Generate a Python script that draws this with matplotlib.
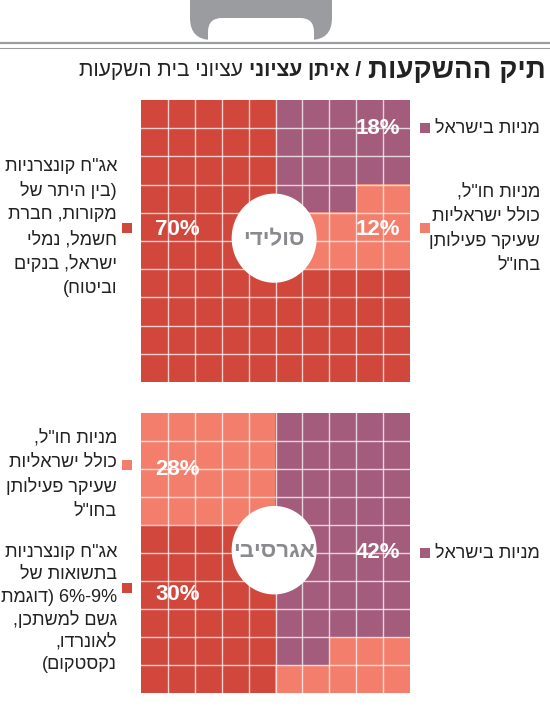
import matplotlib
matplotlib.use("Agg")
import matplotlib.pyplot as plt
from matplotlib import font_manager
import numpy as np
from matplotlib.patches import Circle, FancyBboxPatch, Rectangle
from matplotlib.colors import ListedColormap

names = {f.name for f in font_manager.fontManager.ttflist}
narrow = 'Liberation Sans Narrow' in names
fam = (['Liberation Sans Narrow'] if narrow else []) + ['Liberation Sans', 'DejaVu Sans']
plt.rcParams['font.family'] = fam
LFS = 15 if narrow else 13

def h(s):
    r = s[::-1]
    return r.translate(str.maketrans("()", ")("))

# data
categories = ["אג\"ח קונצרניות", "מניות בישראל", "מניות חו\"ל"]
colors = ["#d2473b", "#a45c7c", "#f27e6b"]
# R = bonds, P = Israel equity, S = foreign equity
solid_rows = ["RRRRRPPPPP", "RRRRRPPPPP", "RRRRRPPPPP", "RRRRRPPPSS", "RRRRRSSSSS",
              "RRRRRSSSSS", "RRRRRRRRRR", "RRRRRRRRRR", "RRRRRRRRRR", "RRRRRRRRRR"]
aggr_rows = ["SSSSSPPPPP", "SSSSSPPPPP", "SSSSSPPPPP", "SSSSSPPPPP", "RRRRRPPPPP",
             "RRRRRPPPPP", "RRRRRPPPPP", "RRRRRPPPPP", "RRRRRPPSSS", "RRRRRSSSSS"]
solid_pct = {"R": 70, "P": 18, "S": 12}
aggr_pct = {"R": 30, "P": 42, "S": 28}

W, H = 550, 716
fig = plt.figure(figsize=(5.5, 7.16), dpi=100)
bg = fig.add_axes([0, 0, 1, 1])
bg.set_xlim(0, W); bg.set_ylim(H, 0); bg.axis('off')

# briefcase handle
bg.add_patch(FancyBboxPatch((190, -40), 142, 80, boxstyle="round,pad=0,rounding_size=22",
                            fc="#9b9ca0", ec="none"))
bg.add_patch(FancyBboxPatch((208, 18), 106, 60, boxstyle="round,pad=0,rounding_size=14",
                            fc="white", ec="none"))
bg.add_patch(Rectangle((0, 40), W, 10, fc="white", ec="none"))
bg.plot([0, W], [43, 43], color="#9b9ca0", lw=1.6)
bg.plot([0, W], [47.5, 47.5], color="#9b9ca0", lw=0.8)

# title
fig.canvas.draw()
r = fig.canvas.get_renderer()
t1 = bg.text(546, 71, h("תיק ההשקעות"), fontsize=20, fontweight='bold', ha='right', va='center', color="#222")
fig.canvas.draw()
x1 = t1.get_window_extent(r).x0 - 7
t2 = bg.text(x1, 71, h("/ איתן עציוני"), fontsize=15, fontweight='bold', ha='right', va='center', color="#222")
fig.canvas.draw()
x2 = t2.get_window_extent(r).x0 - 6
bg.text(x2, 71, h("עציוני בית השקעות"), fontsize=15, ha='right', va='center', color="#222")

code = {"R": 0, "P": 1, "S": 2}
cmap = ListedColormap(colors)

def waffle(rows, top, bottom, label, pct, poss):
    ax = fig.add_axes([141 / W, 1 - bottom / H, 269 / W, (bottom - top) / H])
    m = np.array([[code[c] for c in row] for row in rows])
    ax.imshow(m, cmap=cmap, vmin=0, vmax=2, aspect='auto', interpolation='nearest',
              extent=(0, 10, 10, 0))
    for i in range(1, 10):
        ax.axvline(i, color="white", lw=1, alpha=0.75)
        ax.axhline(i, color="white", lw=1, alpha=0.75)
    ax.set_xlim(0, 10); ax.set_ylim(10, 0); ax.axis('off')
    ax.add_patch(Circle((4.95, 4.9), 1.58, fc="white", ec="none", transform=ax.transData))
    ax.text(4.95, 4.95, h(label), fontsize=16, fontweight='bold', color="#8a8a8e",
            ha='center', va='center')
    for k, (x, y) in poss.items():
        ax.text(x, y, f"{pct[k]}%", fontsize=16, fontweight='bold', color="white",
                ha='center', va='center')

waffle(solid_rows, 100, 382, "סולידי", solid_pct, {"P": (8.8, 1.0), "R": (1.35, 4.6), "S": (8.8, 4.6)})
waffle(aggr_rows, 413, 693, "אגרסיבי", aggr_pct, {"S": (1.35, 2.0), "R": (1.35, 6.5), "P": (8.8, 5.0)})

def legend_block(mx, my, color, lines, tx, align, y0, lh=24.5):
    bg.add_patch(Rectangle((mx - 5, my - 5), 10, 10, fc=color, ec="none"))
    for i, ln in enumerate(lines):
        bg.text(tx, y0 + i * lh, ln, fontsize=LFS, ha=align, va='center', color="#222")

israel = [h("מניות בישראל")]
foreign = [h("מניות חו\"ל,"), h("כולל ישראליות"), h("שעיקר פעילותן"), h("בחו\"ל")]
bonds1 = [h("אג\"ח קונצרניות"), h("(בין היתר של"), h("מקורות, חברת"), h("חשמל, נמלי"),
          h("ישראל, בנקים"), h("וביטוח)")]
bonds2 = [h("אג\"ח קונצרניות"), h("בתשואות של"), "דוגמת"[::-1] + ") 6%-9%",
          h("גשם למשתכן,"), h("לאונרדו,"), h("נקסטקום)")]

legend_block(425, 128, colors[1], israel, 540, 'right', 128)
legend_block(425, 228, colors[2], foreign, 540, 'right', 192)
legend_block(127, 228, colors[0], bonds1, 117, 'right', 166)
legend_block(127, 465, colors[2], foreign, 117, 'right', 438)
legend_block(127, 588, colors[0], bonds2, 117, 'right', 552, 22.5)
legend_block(425, 553, colors[1], israel, 540, 'right', 553)

fig.savefig("out.png", dpi=100, facecolor="white")
